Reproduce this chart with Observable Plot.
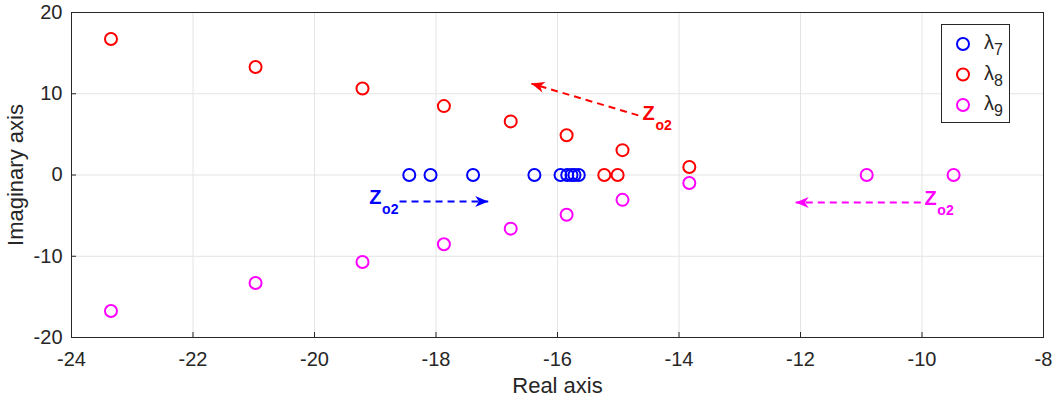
<!DOCTYPE html>
<html><head><meta charset="utf-8">
<script src="https://cdn.jsdelivr.net/npm/d3@7"></script>
<script src="https://cdn.jsdelivr.net/npm/@observablehq/plot@0.6"></script>
<style>
body{margin:0;background:#fff;}
#chart{position:relative;width:1052px;height:398px;}
</style>
</head><body><div id="chart"></div>
<script>
// ---- data ----
const xTicks = [-24, -22, -20, -18, -16, -14, -12, -10, -8];
const yTicks = [-20, -10, 0, 10, 20];
const seriesNames = ["λ7", "λ8", "λ9"];
const seriesSubs = ["7", "8", "9"];
const seriesColors = ["#0000ff", "#ff0000", "#ff00ff"];

const lambda7Re = [-18.44, -18.09, -17.39, -16.38, -15.95, -15.84, -15.77, -15.72, -15.65];
const lambda7Im = [0, 0, 0, 0, 0, 0, 0, 0, 0];
const lambda8Re = [-23.35, -20.97, -19.21, -17.87, -16.77, -15.85, -14.93, -13.83, -15.23, -15.01];
const lambda8Im = [16.73, 13.3, 10.65, 8.48, 6.6, 4.9, 3.06, 0.98, 0, 0];
const lambda9Re = [-23.35, -20.97, -19.21, -17.87, -16.77, -15.85, -14.93, -13.83, -10.91, -9.48];
const lambda9Im = [-16.73, -13.3, -10.7, -8.53, -6.6, -4.9, -3.06, -0.98, 0, 0];

// annotation arrows (direction of Zo2 increase)
const arrowX1 = [-18.6, -14.67, -10.02];
const arrowY1 = [-3.27, 7.34, -3.39];
const arrowX2 = [-17.14, -16.43, -12.08];
const arrowY2 = [-3.27, 11.25, -3.39];
const arrowSeries = ["λ7", "λ8", "λ9"];
const labelX = [-19.0, -14.5, -9.86];
const labelY = [-2.82, 7.53, -2.94];
const labelMain = "Z";
const labelSub = "o2";

// ---- layout ----
const W = 1052, H = 398, mL = 71, mR = 9, mT = 12, mB = 61;
const xDomain = [-24, -8], yDomain = [-20, 20];
const kx = (W - mL - mR) / (xDomain[1] - xDomain[0]);
const ky = (H - mT - mB) / (yDomain[1] - yDomain[0]);

// ---- build tables ----
const points = [];
[[lambda7Re, lambda7Im], [lambda8Re, lambda8Im], [lambda9Re, lambda9Im]].forEach(([re, im], s) => {
  re.forEach((v, i) => points.push({re: v, im: im[i], series: seriesNames[s]}));
});
const arrows = arrowX1.map((v, i) => {
  const dx = (arrowX2[i] - v) * kx, dy = -(arrowY2[i] - arrowY1[i]) * ky;
  return {x1: v, y1: arrowY1[i], x2: arrowX2[i], y2: arrowY2[i], series: arrowSeries[i],
    lx: labelX[i], ly: labelY[i], angle: Math.atan2(dx, -dy) * 180 / Math.PI};
});

// arrowhead symbol: tip at origin, pointing up (screen -y), notched back
const arrowHead = {
  draw(context, size) {
    const r = Math.sqrt(size / Math.PI);
    context.moveTo(0, 0);
    context.lineTo(0.42 * r, r);
    context.lineTo(0, 0.72 * r);
    context.lineTo(-0.42 * r, r);
    context.closePath();
  }
};

const font = "Liberation Sans, Arial, Helvetica, sans-serif";
const axisColor = "#262626";

const plot = Plot.plot({
  width: W,
  height: H,
  marginLeft: mL,
  marginRight: mR,
  marginTop: mT,
  marginBottom: mB,
  style: {fontFamily: font, fontSize: "20px", color: axisColor, background: "#fff"},
  x: {domain: xDomain},
  y: {domain: yDomain},
  color: {domain: seriesNames, range: seriesColors},
  marks: [
    Plot.gridX(xTicks, {stroke: "#e4e4e4", strokeOpacity: 1}),
    Plot.gridY(yTicks, {stroke: "#e4e4e4", strokeOpacity: 1}),
    Plot.axisX(xTicks, {tickSize: -5, tickPadding: 19, stroke: axisColor, fill: axisColor, fontSize: 20, tickFormat: d => String(d),
      label: null}),
    Plot.axisX({label: "Real axis", ticks: [], tickSize: 0, labelAnchor: "center", labelOffset: 55, labelArrow: "none", fontSize: 22, fill: axisColor}),
    Plot.axisY(yTicks, {tickSize: -5, tickPadding: 14, stroke: axisColor, fill: axisColor, fontSize: 20, tickFormat: d => String(d),
      label: null}),
    Plot.axisY({label: "Imaginary axis", ticks: [], tickSize: 0, labelAnchor: "center", labelOffset: 64, labelArrow: "none", fontSize: 22, fill: axisColor}),
    Plot.frame({stroke: axisColor}),
    Plot.link(arrows, {x1: "x1", y1: "y1", x2: "x2", y2: "y2", stroke: "series", strokeWidth: 2, strokeDasharray: "7,5"}),
    Plot.dot(arrows, {x: "x2", y: "y2", symbol: arrowHead, r: 13, fill: "series", stroke: "none", rotate: "angle"}),
    Plot.text(arrows, {x: "lx", y: "ly", text: () => labelMain, fill: "series", fontWeight: "bold", fontSize: 20}),
    Plot.text(arrows, {x: "lx", y: "ly", text: () => labelSub, fill: "series", fontWeight: "bold", fontSize: 14, dx: 15, dy: 12}),
    Plot.dot(points, {x: "re", y: "im", stroke: "series", r: 6, strokeWidth: 2})
  ]
});

document.getElementById("chart").appendChild(plot);

// ---- legend ----
const svg = d3.select(plot);
const lg = svg.append("g").attr("font-family", font).attr("text-anchor", "start");
lg.append("rect").attr("x", 941.5).attr("y", 24.5).attr("width", 68).attr("height", 98)
  .attr("fill", "#fff").attr("stroke", axisColor);
const legendRowY = [44, 74.5, 105];
seriesNames.forEach((n, i) => {
  lg.append("circle").attr("cx", 963).attr("cy", legendRowY[i]).attr("r", 6)
    .attr("fill", "none").attr("stroke", seriesColors[i]).attr("stroke-width", 2);
  const t = lg.append("text").attr("x", 984).attr("y", legendRowY[i] + 5).attr("fill", axisColor).attr("font-size", 20);
  t.append("tspan").text("λ");
  t.append("tspan").attr("dy", 6).attr("font-size", 16).text(seriesSubs[i]);
});
</script>
</body></html>
